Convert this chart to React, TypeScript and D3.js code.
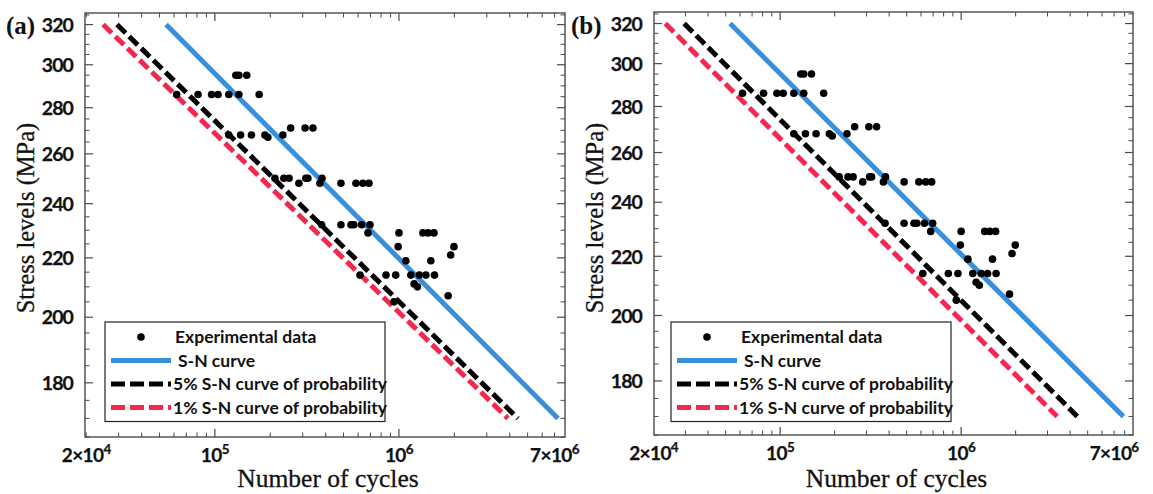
import React from 'react';
import * as d3 from 'd3';

// Experimental data (cycles, stress MPa)
const expCycles = [
  1.30e5, 1.35e5, 1.49e5,
  6.2e4, 8.1e4, 9.6e4, 1.04e5, 1.19e5, 1.35e5, 1.74e5,
  2.58e5, 3.09e5, 3.41e5,
  1.19e5, 1.38e5, 1.58e5, 1.87e5, 2.34e5, 1.94e5,
  2.12e5, 2.37e5, 2.53e5, 3.12e5, 3.20e5, 3.82e5,
  2.86e5, 3.72e5, 4.84e5, 5.84e5, 6.37e5, 6.87e5,
  3.80e5, 4.84e5, 5.49e5, 5.69e5, 6.27e5, 6.96e5,
  6.79e5, 1.00e6, 1.35e6, 1.44e6, 1.55e6,
  9.9e5, 1.99e6,
  1.91e6,
  1.09e6, 1.49e6,
  6.14e5, 8.5e5, 9.6e5, 1.16e6, 1.29e6, 1.40e6, 1.56e6,
  1.21e6, 1.26e6, 1.85e6, 9.4e5,
];
const expStress = [
  295, 295, 295,
  286, 286, 286, 286, 286, 286, 286,
  271, 271, 271,
  268, 268, 268, 268, 268, 267,
  250, 250, 250, 250, 250, 250,
  248, 248, 248, 248, 248, 248,
  232, 232, 232, 232, 232, 232,
  229, 229, 229, 229, 229,
  224, 224,
  221,
  219, 219,
  214, 214, 214, 214, 214, 214, 214,
  211, 210, 207, 205,
];

// Fitted curves: endpoints (cycles) at the stresses in curveStress
const curveStress = [320, 170];
const snCyclesA = [5.43e4, 7.31e6];
const p5CyclesA = [2.94e4, 4.43e6];
const p1CyclesA = [2.47e4, 3.91e6];
const snCyclesB = [5.29e4, 7.88e6];
const p5CyclesB = [2.95e4, 4.38e6];
const p1CyclesB = [2.32e4, 3.39e6];

const yTickValues = [180, 200, 220, 240, 260, 280, 300, 320];
const xTickValues = [2e4, 1e5, 1e6, 7e6];
const xTickBases = ['2×10', '10', '10', '7×10'];
const xTickExps = ['4', '5', '6', '6'];
const legendLabels = ['Experimental data', 'S-N curve', '5% S-N curve of probability', '1% S-N curve of probability'];

const BLUE = '#3a8fdb';
const RED = '#f2294d';
const AXIS = '#4a4a4a';
const SANS = "Lato, 'Open Sans', sans-serif";
const SERIF = "'Liberation Serif', 'DejaVu Serif', serif";

type PanelProps = {
  left: number; right: number; top: number; bottom: number;
  xDomain: [number, number];
  sn: number[]; p5: number[]; p1: number[];
  tag: string; tagX: number;
  legendX: number;
};

function Panel(p: PanelProps) {
  const x = d3.scaleLog().domain(p.xDomain).range([p.left, p.right]);
  const y = d3.scaleLog().domain([165, 326]).range([p.bottom, p.top]);
  const line = d3.line<[number, number]>().x(d => x(d[0])).y(d => y(d[1]));
  const mk = (c: number[]) => line(c.map((v, i) => [v, curveStress[i]] as [number, number])) || '';

  const yMinor: number[] = [];
  for (let v = 165; v <= 325; v += 5) if (!yTickValues.includes(v)) yMinor.push(v);
  const xMinor: number[] = [];
  for (let e = 4; e <= 6; e++) for (let m = 1; m <= 9; m++) {
    const v = m * Math.pow(10, e);
    if (v >= p.xDomain[0] * 0.999 && v <= p.xDomain[1] && v !== 1e5 && v !== 1e6) xMinor.push(v);
  }
  const xMajor = [1e5, 1e6];
  const lx = p.legendX;
  const ly = 322;
  const rows = [337, 360.5, 384, 407.5];
  const textX = [lx + 70, lx + 73, lx + 68, lx + 68];

  return (
    <g>
      <rect x={p.left} y={p.top} width={p.right - p.left} height={p.bottom - p.top} fill="none" stroke={AXIS} strokeWidth={1.4} />
      {yTickValues.map(v => (
        <g key={'ym' + v}>
          <line x1={p.left} x2={p.left + 8} y1={y(v)} y2={y(v)} stroke={AXIS} strokeWidth={1.2} />
          <line x1={p.right} x2={p.right - 8} y1={y(v)} y2={y(v)} stroke={AXIS} strokeWidth={1.2} />
          <text x={p.left - 12} y={y(v)} dy="0.37em" textAnchor="end" fontFamily={SANS} fontWeight={700} fontSize={19.5} letterSpacing={-0.9} fill="#111" stroke="#111" strokeWidth={0.25}>{v}</text>
        </g>
      ))}
      {yMinor.map(v => (
        <g key={'yn' + v}>
          <line x1={p.left} x2={p.left + 4.5} y1={y(v)} y2={y(v)} stroke={AXIS} strokeWidth={1} />
          <line x1={p.right} x2={p.right - 4.5} y1={y(v)} y2={y(v)} stroke={AXIS} strokeWidth={1} />
        </g>
      ))}
      {xMajor.map(v => (
        <g key={'xm' + v}>
          <line x1={x(v)} x2={x(v)} y1={p.bottom} y2={p.bottom - 8} stroke={AXIS} strokeWidth={1.2} />
          <line x1={x(v)} x2={x(v)} y1={p.top} y2={p.top + 8} stroke={AXIS} strokeWidth={1.2} />
        </g>
      ))}
      {xMinor.map(v => (
        <g key={'xn' + v}>
          <line x1={x(v)} x2={x(v)} y1={p.bottom} y2={p.bottom - 4.5} stroke={AXIS} strokeWidth={1} />
          <line x1={x(v)} x2={x(v)} y1={p.top} y2={p.top + 4.5} stroke={AXIS} strokeWidth={1} />
        </g>
      ))}
      {xTickValues.map((v, i) => (
        <text key={'xl' + v} x={x(v)} y={p.bottom + 25} textAnchor="middle" fontFamily={SANS} fontWeight={700} fontSize={19} letterSpacing={-0.6} fill="#111" stroke="#111" strokeWidth={0.25}>
          {xTickBases[i]}<tspan dy={-8} fontSize={13.5}>{xTickExps[i]}</tspan>
        </text>
      ))}
      <path d={mk(p.p1)} fill="none" stroke={RED} strokeWidth={5} strokeDasharray="12,5" />
      <path d={mk(p.p5)} fill="none" stroke="#000" strokeWidth={5} strokeDasharray="12,5" />
      <path d={mk(p.sn)} fill="none" stroke={BLUE} strokeWidth={5} />
      {expCycles.map((c, i) => (
        <circle key={'d' + i} cx={x(c)} cy={y(expStress[i])} r={3.8} fill="#000" />
      ))}
      <rect x={lx} y={ly} width={280} height={99.5} fill="#fff" stroke="#222" strokeWidth={1.2} />
      <circle cx={lx + 36} cy={rows[0]} r={3.8} fill="#000" />
      <line x1={lx + 6} x2={lx + 66} y1={rows[1]} y2={rows[1]} stroke={BLUE} strokeWidth={5} />
      <line x1={lx + 6} x2={lx + 66} y1={rows[2]} y2={rows[2]} stroke="#000" strokeWidth={5} strokeDasharray="14,5" />
      <line x1={lx + 6} x2={lx + 66} y1={rows[3]} y2={rows[3]} stroke={RED} strokeWidth={5} strokeDasharray="14,5" />
      {legendLabels.map((t, i) => (
        <text key={'lg' + i} x={textX[i]} y={rows[i]} dy="0.36em" fontFamily={SANS} fontWeight={700} fontSize={17.5} fill="#111">{t}</text>
      ))}
      <text x={(p.left + p.right) / 2 + 3} y={487} textAnchor="middle" fontFamily={SERIF} fontSize={25.5} fill="#111" stroke="#111" strokeWidth={0.3}>Number of cycles</text>
      <text transform={`translate(${p.left - 51},218) rotate(-90)`} textAnchor="middle" fontFamily={SERIF} fontSize={24.5} fill="#111" stroke="#111" strokeWidth={0.3}>Stress levels (MPa)</text>
      <text x={p.tagX} y={34} fontFamily={SERIF} fontWeight={700} fontSize={25} fill="#111">{p.tag}</text>
    </g>
  );
}

export default function App() {
  return (
    <svg width={1153} height={494} style={{ display: 'block', position: 'absolute', left: 0, top: 0, background: '#fff' }}>
      <rect width={1153} height={494} fill="#fff" />
      <Panel left={85} right={565} top={13} bottom={437} xDomain={[1.97e4, 7.98e6]}
        sn={snCyclesA} p5={p5CyclesA} p1={p1CyclesA} tag="(a)" tagX={6} legendX={105} />
      <Panel left={654} right={1133} top={12} bottom={435} xDomain={[2.01e4, 8.9e6]}
        sn={snCyclesB} p5={p5CyclesB} p1={p1CyclesB} tag="(b)" tagX={571} legendX={671} />
    </svg>
  );
}
